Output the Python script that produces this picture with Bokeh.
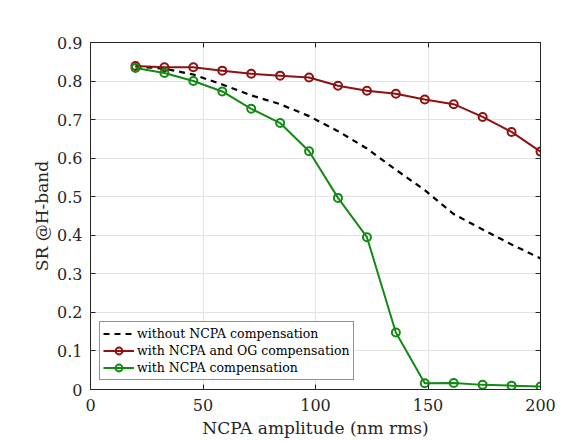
from bokeh.plotting import figure
from bokeh.models import (FixedTicker, LinearAxis, Range1d, Legend, LegendItem,
                          CustomJSTickFormatter)
from bokeh.embed import file_html
from bokeh.resources import INLINE

# ---- data ----
ncpa_amp = [20, 32.86, 45.71, 58.57, 71.43, 84.29, 97.14, 110,
            122.86, 135.71, 148.57, 161.43, 174.29, 187.14, 200]
sr_without = [0.838, 0.832, 0.817, 0.791, 0.763, 0.740, 0.709, 0.670,
              0.625, 0.570, 0.517, 0.455, 0.415, 0.376, 0.340]
sr_ncpa_og = [0.839, 0.836, 0.836, 0.827, 0.819, 0.814, 0.809, 0.788,
              0.775, 0.767, 0.752, 0.740, 0.707, 0.668, 0.617]
sr_ncpa = [0.834, 0.821, 0.800, 0.773, 0.728, 0.691, 0.618, 0.497,
           0.395, 0.148, 0.016, 0.017, 0.012, 0.010, 0.008]
x_ticks = [0, 50, 100, 150, 200]
y_ticks = [0, 0.1, 0.2, 0.3, 0.4, 0.5, 0.6, 0.7, 0.8, 0.9]
labels = ["without NCPA compensation",
          "with NCPA and OG compensation",
          "with NCPA compensation"]

FONT = "DejaVu Serif"
RED = "#8e1212"
GREEN = "#138a13"
AX = "#262626"

p = figure(width=576, height=441, output_backend="svg", toolbar_location=None,
           x_range=Range1d(0, 200), y_range=Range1d(0, 0.9),
           min_border_left=90, min_border_right=36, min_border_top=42,
           min_border_bottom=52)
p.background_fill_color = "white"
p.border_fill_color = "white"
p.outline_line_color = AX
p.outline_line_width = 1

fmt = CustomJSTickFormatter(code="return String(Math.round(tick*10)/10);")
blank = CustomJSTickFormatter(code="return '';")

for ax in [p.xaxis[0], p.yaxis[0]]:
    ax.major_tick_in = 5
    ax.major_tick_out = 0
    ax.minor_tick_in = 0
    ax.minor_tick_out = 0
    ax.axis_line_color = AX
    ax.major_tick_line_color = AX
    ax.major_label_text_font = FONT
    ax.major_label_text_font_size = "16px"
    ax.major_label_text_color = AX
    ax.axis_label_text_font = FONT
    ax.axis_label_text_font_size = "17px"
    ax.axis_label_text_font_style = "normal"
    ax.axis_label_text_color = AX
    ax.formatter = fmt

p.xaxis[0].ticker = FixedTicker(ticks=x_ticks)
p.yaxis[0].ticker = FixedTicker(ticks=y_ticks)
p.xaxis[0].axis_label = "NCPA amplitude (nm rms)"
p.yaxis[0].axis_label = "SR @H-band"
p.xaxis[0].major_label_standoff = 9
p.xaxis[0].axis_label_standoff = 4
p.yaxis[0].major_label_standoff = 8
p.yaxis[0].axis_label_standoff = 2

# mirrored box axes (ticks only)
for loc, tk in [("right", y_ticks), ("above", x_ticks)]:
    a = LinearAxis(ticker=FixedTicker(ticks=tk), major_tick_in=5, major_tick_out=0,
                   minor_tick_in=0, minor_tick_out=0, axis_line_color=AX,
                   major_tick_line_color=AX, formatter=blank,
                   major_label_standoff=0)
    p.add_layout(a, loc)

p.xgrid.ticker = FixedTicker(ticks=x_ticks)
p.ygrid.ticker = FixedTicker(ticks=y_ticks)
p.grid.grid_line_color = "#e3e3e3"
p.grid.grid_line_width = 1

r0 = p.line(ncpa_amp, sr_without, line_color="black", line_width=2.2, line_dash="6 5")
r1 = p.line(ncpa_amp, sr_ncpa_og, line_color=RED, line_width=2)
m1 = p.scatter(ncpa_amp, sr_ncpa_og, marker="circle", size=8, line_color=RED,
               line_width=2, fill_alpha=0)
r2 = p.line(ncpa_amp, sr_ncpa, line_color=GREEN, line_width=2)
m2 = p.scatter(ncpa_amp, sr_ncpa, marker="circle", size=8, line_color=GREEN,
               line_width=2, fill_alpha=0)

legend = Legend(items=[LegendItem(label=labels[0], renderers=[r0]),
                       LegendItem(label=labels[1], renderers=[r1, m1]),
                       LegendItem(label=labels[2], renderers=[r2, m2])],
                location=(9, 9), margin=0, padding=3, spacing=0,
                label_text_font=FONT, label_text_font_size="12.5px",
                label_text_color="black", label_height=17, glyph_height=17,
                glyph_width=31, label_standoff=3,
                border_line_color=AX, border_line_width=1,
                background_fill_color="white", background_fill_alpha=1)
p.add_layout(legend, "center")

open("out.html", "w").write(file_html(p, INLINE))
